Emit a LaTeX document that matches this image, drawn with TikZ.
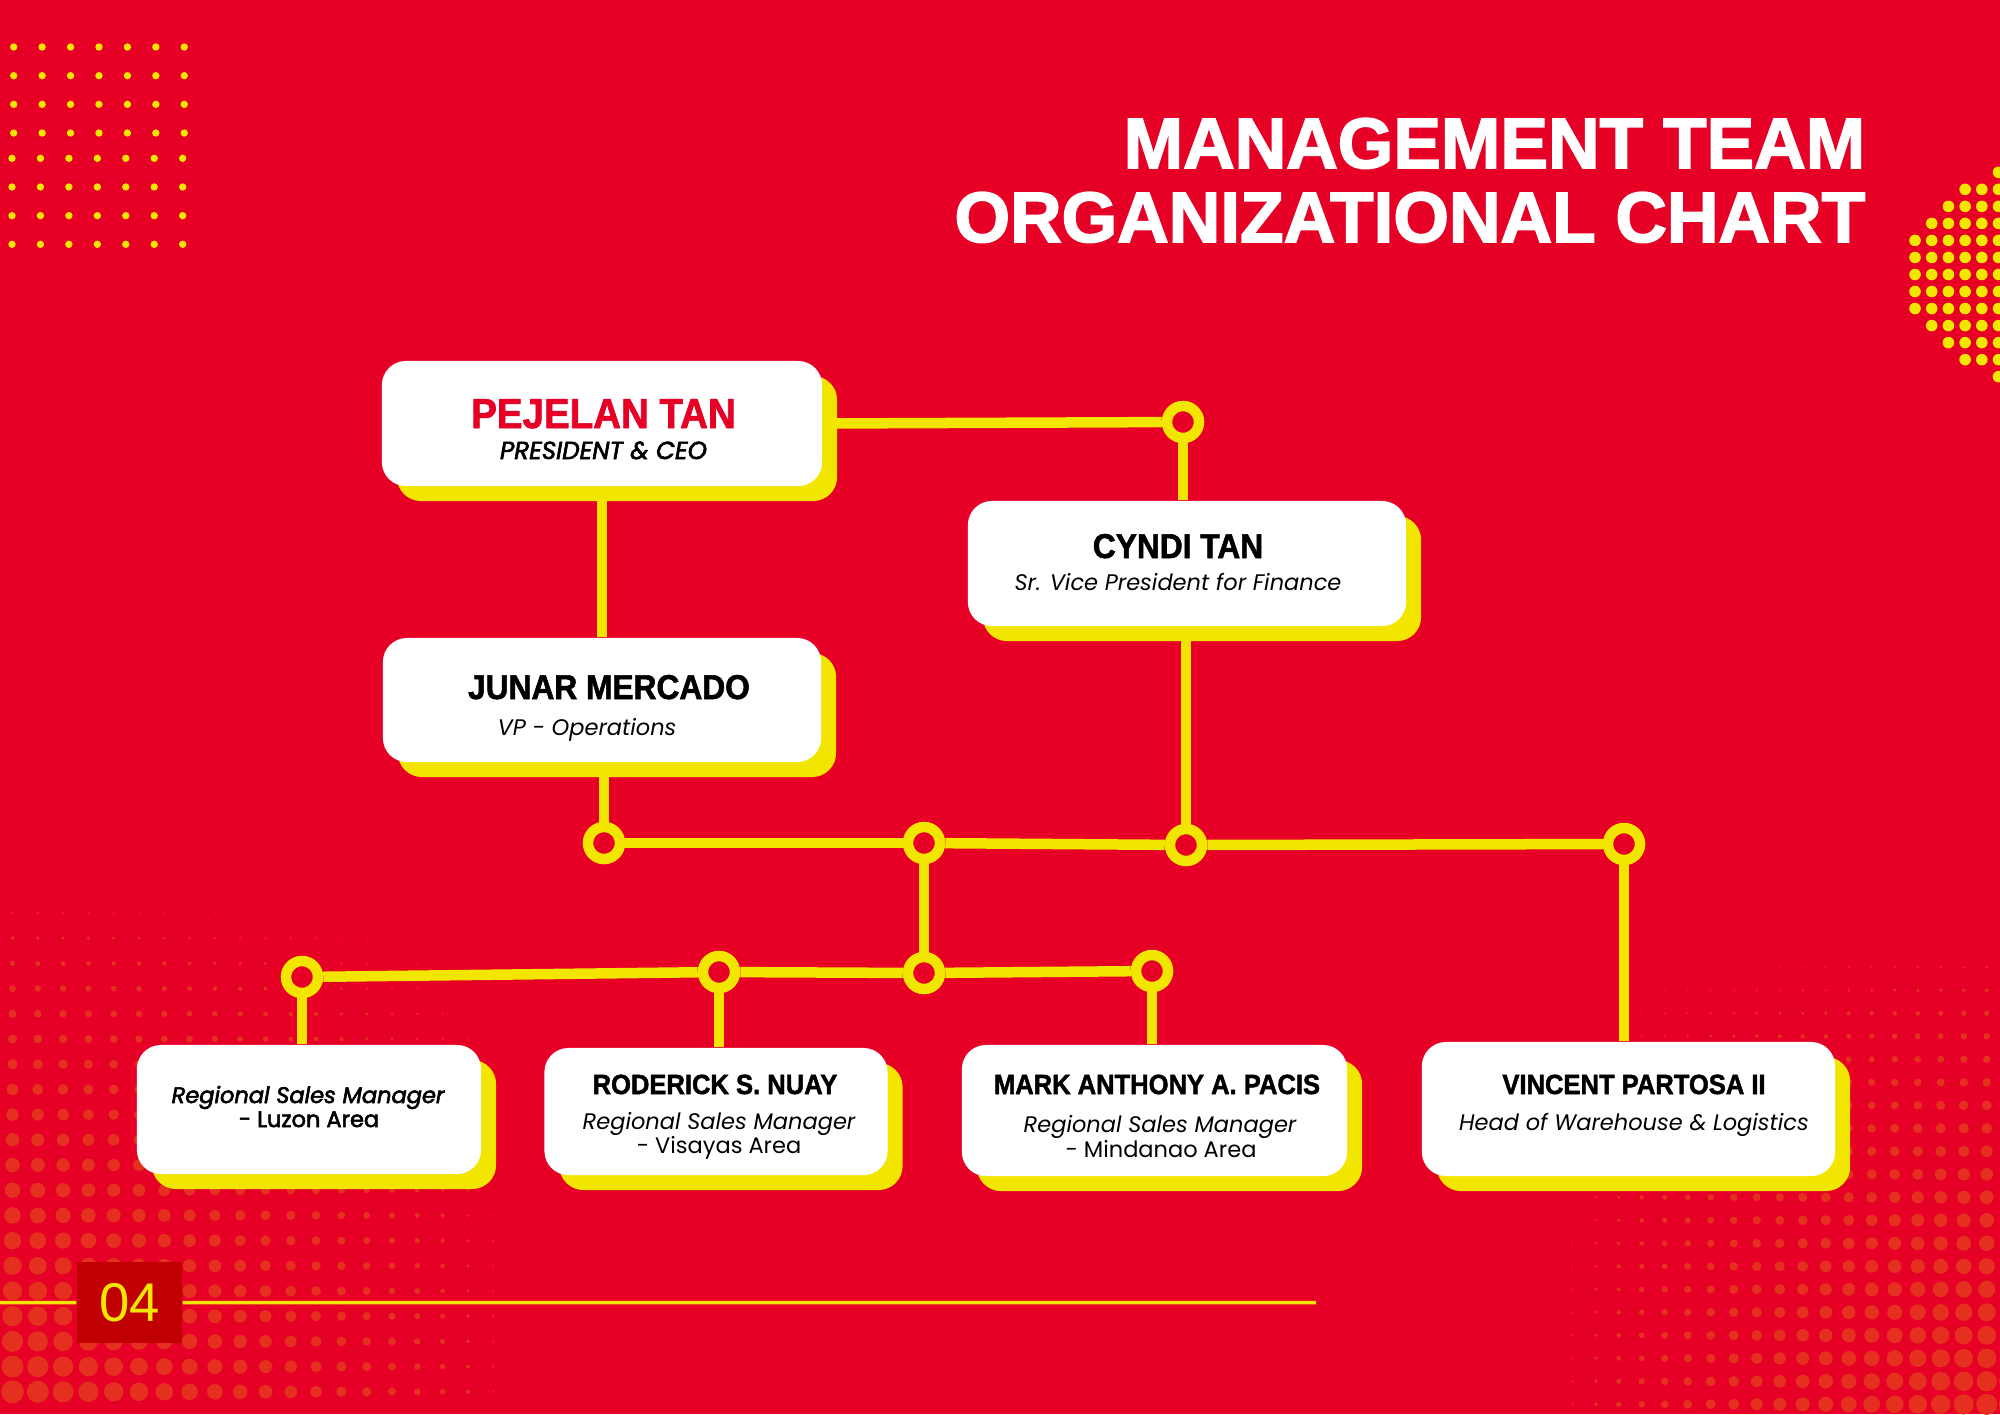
\documentclass[tikz,border=0pt]{standalone}
\usepackage{fontspec}
\usetikzlibrary{shadows}
\definecolor{bgred}{HTML}{E60026}
\definecolor{yel}{HTML}{F2E600}
\definecolor{dotred}{HTML}{E53020}
\definecolor{pgred}{HTML}{C00000}
\newfontfamily\namefont{Liberation Sans}[FakeStretch=0.92, FakeBold=1.6]
\newfontfamily\titlefont{Liberation Sans}[FakeBold=2.2]
\newfontfamily\numfont{Liberation Sans}
\newfontfamily\popp{Poppins}
\newfontfamily\poppsb{Poppins}[FakeBold=2.6]
\pgfdeclarelayer{back}
\pgfdeclarelayer{wires}
\pgfsetlayers{back,wires,main}
\begin{document}
\begin{tikzpicture}[x=0.01cm,y=-0.01cm,
  box/.style={fill=white, rounded corners=0.24cm, inner sep=0pt,
    drop shadow={shadow xshift=0.15cm, shadow yshift=-0.15cm, fill=yel, opacity=1}},
  hub/.style={circle, draw=yel, fill=bgred, line width=0.105cm, minimum size=0.32cm, inner sep=0pt},
  wire/.style={draw=yel, line width=0.105cm},
  nm/.style={anchor=base, inner sep=0pt, font=\namefont\bfseries\fontsize{7.9}{9}\selectfont},
  nmbig/.style={anchor=base, inner sep=0pt, font=\namefont\bfseries\fontsize{9.8}{11}\selectfont},
  rl/.style={anchor=base, inner sep=0pt, font=\popp\itshape\fontsize{6.4}{7}\selectfont},
  rlu/.style={anchor=base, inner sep=0pt, font=\popp\fontsize{6.4}{7}\selectfont},
  rlb/.style={anchor=base, inner sep=0pt, font=\poppsb\itshape\fontsize{6.4}{7}\selectfont},
  rlbu/.style={anchor=base, inner sep=0pt, font=\poppsb\fontsize{6.4}{7}\selectfont},
  ttl/.style={anchor=base east, inner sep=0pt, text=white, font=\titlefont\bfseries\fontsize{20.3}{24}\selectfont}]

\useasboundingbox (0,0) rectangle (2000,1414);

% ---------- background ----------
\begin{pgfonlayer}{back}
\fill[bgred] (0,0) rectangle (2000,1414);
\begin{scope}
\clip (0,0) rectangle (2000,1414);
% top-left dot grid
\foreach \j in {0,...,3}{\foreach \i in {0,...,6}{
  \fill[yel] ({13.7+28.43*\i},{47+28.67*\j}) circle[radius=0.037cm];}}
\foreach \j in {0,...,3}{\foreach \i in {0,...,6}{
  \fill[yel] ({12+28.45*\i},{158.3+28.67*\j}) circle[radius=0.037cm];}}
% right dot disk
\foreach \j/\s in {0/5,1/3,2/2,3/1,4/0,5/0,6/0,7/0,8/0,9/1,10/2,11/3,12/5}{
  \foreach \i in {\s,...,6}{
    \fill[yel] ({1915+16.7*\i},{172.3+17.03*\j}) circle[radius=0.058cm];}}
% bottom-left halftone
\foreach \i in {0,...,20}{\foreach \j in {0,...,19}{
  \pgfmathsetmacro{\px}{12.5+25.3*\i}
  \pgfmathsetmacro{\py}{913+25.2*\j}
  \pgfmathsetmacro{\pa}{(\py-890)/524}
  \pgfmathsetmacro{\pb}{(520-\px)/520}
  \pgfmathsetmacro{\rr}{0.2845*12*pow(max(0.0001,\pa*\pb),0.75)}
  \ifdim\rr pt>0.17pt \fill[dotred] (\px,\py) circle[radius=\rr pt];\fi
}}
% bottom-right halftone
\foreach \i in {0,...,19}{\foreach \j in {0,...,19}{
  \pgfmathsetmacro{\px}{1572.7+23*\i}
  \pgfmathsetmacro{\py}{967.3+23*\j}
  \pgfmathsetmacro{\pa}{(\py-940)/474}
  \pgfmathsetmacro{\pb}{(\px-1550)/450}
  \pgfmathsetmacro{\rr}{0.2845*11*pow(max(0.0001,\pa*\pb),0.75)}
  \ifdim\rr pt>0.17pt \fill[dotred] (\px,\py) circle[radius=\rr pt];\fi
}}
\end{scope}
\end{pgfonlayer}

% ---------- title ----------
\node[ttl] (t1) at (1866,168) {MANAGEMENT TEAM};
\node[ttl] (t2) at (1866,242) {ORGANIZATIONAL CHART};

% ---------- boxes ----------
\node[box, minimum width=4.40cm, minimum height=1.25cm] (B1) at (602,423.5) {};
\node[box, minimum width=4.38cm, minimum height=1.24cm] (B2) at (602,700) {};
\node[box, minimum width=4.38cm, minimum height=1.25cm] (B3) at (1187,563.5) {};
\node[box, minimum width=3.44cm, minimum height=1.29cm] (B4) at (309,1109.5) {};
\node[box, minimum width=3.43cm, minimum height=1.27cm] (B5) at (716,1111.5) {};
\node[box, minimum width=3.85cm, minimum height=1.31cm] (B6) at (1154.5,1110.5) {};
\node[box, minimum width=4.13cm, minimum height=1.34cm] (B7) at (1628.5,1109) {};

% ---------- box texts ----------
\node[nm, text=bgred, font=\namefont\bfseries\fontsize{11.9}{13}\selectfont] (n1) at (603.5,428) {PEJELAN TAN};
\node[rlb, font=\poppsb\itshape\fontsize{7}{8}\selectfont] (r1) at (603.5,459) {PRESIDENT \& CEO};
\node[nmbig] (n2) at (609,699) {JUNAR MERCADO};
\node[rl] (r2) at (587,735) {VP - Operations};
\node[nmbig] (n3) at (1178,558) {CYNDI TAN};
\node[rl] (r3) at (1178,590) {Sr. Vice President for Finance};
\node[rlb] (r4a) at (308,1103) {Regional Sales Manager};
\node[rlbu] (r4b) at (309,1127) {- Luzon Area};
\node[nm] (n5) at (715,1094) {RODERICK S. NUAY};
\node[rl] (r5a) at (719,1129) {Regional Sales Manager};
\node[rlu] (r5b) at (719,1153) {- Visayas Area};
\node[nm] (n6) at (1157,1094) {MARK ANTHONY A. PACIS};
\node[rl] (r6a) at (1160,1132) {Regional Sales Manager};
\node[rlu] (r6b) at (1161,1157) {- Mindanao Area};
\node[nm] (n7) at (1634,1094) {VINCENT PARTOSA II};
\node[rl] (r7) at (1634,1130) {Head of Warehouse \& Logistics};

% ---------- hubs ----------
\node[hub] (c1) at (1183,422) {};
\node[hub] (c2) at (604,843) {};
\node[hub] (c3) at (924,843) {};
\node[hub] (c4) at (1186,845) {};
\node[hub] (c5) at (1624,844) {};
\node[hub] (c6) at (924,973) {};
\node[hub] (c7) at (719,972) {};
\node[hub] (c8) at (1152,971) {};
\node[hub] (c9) at (302,977) {};

% ---------- connectors ----------
\begin{pgfonlayer}{wires}
\draw[wire] (B1.east) -- (c1);
\draw[wire] (c1) -- (c1 |- B3.north);
\draw[wire] (B1.south) -- (B2.north);
\draw[wire] (c2 |- B2.south) -- (c2);
\draw[wire] (c2) -- (c3);
\draw[wire] (c3) -- (c4);
\draw[wire] (c4) -- (c5);
\draw[wire] (c4 |- B3.south) -- (c4);
\draw[wire] (c5) -- (c5 |- B7.north);
\draw[wire] (c3) -- (c6);
\draw[wire] (c9) -- (c7);
\draw[wire] (c7) -- (c6);
\draw[wire] (c6) -- (c8);
\draw[wire] (c7) -- (c7 |- B5.north);
\draw[wire] (c8) -- (c8 |- B6.north);
\draw[wire] (c9) -- (c9 |- B4.north);
\end{pgfonlayer}

% ---------- page number ----------
\node[fill=pgred, minimum width=1.05cm, minimum height=0.81cm, inner sep=0pt, text=yel,
  font=\numfont\fontsize{15.5}{18}\selectfont] (pg) at (129.5,1302.5) {04};
\coordinate (lstart) at (0,1302.7);
\coordinate (lend) at (1316,1302.7);
\begin{pgfonlayer}{wires}
\draw[yel, line width=0.035cm] (lstart) -- (pg.west);
\draw[yel, line width=0.035cm] (pg.east) -- (lend);
\end{pgfonlayer}
\end{tikzpicture}
\end{document}
